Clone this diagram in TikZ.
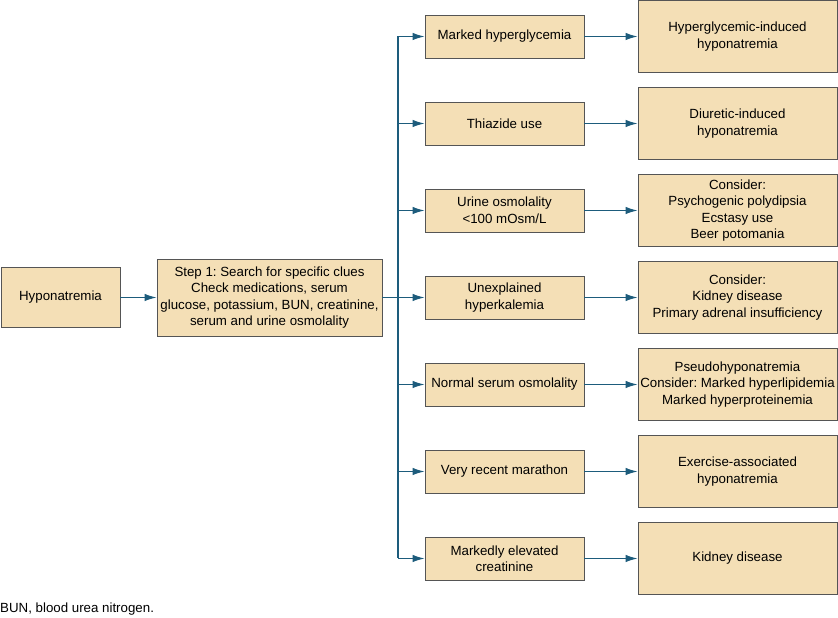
\documentclass[tikz,border=0pt]{standalone}
\usepackage{fontspec}
\setmainfont{Liberation Sans}
\usetikzlibrary{positioning, arrows.meta}
\definecolor{boxfill}{HTML}{F4DFB6}
\definecolor{boxline}{HTML}{555555}
\definecolor{flowblue}{HTML}{1D5C7C}
\frenchspacing

\begin{document}
\begin{tikzpicture}[x=1pt, y=1pt, node distance=87pt, on grid,
   box/.style={draw=boxline, fill=boxfill, line width=0.9pt, align=center,
     inner sep=2pt, font=\fontsize{13.3}{16.5}\selectfont},
   startbox/.style={box, minimum width=119pt, minimum height=60pt},
   stepbox/.style={box, minimum width=225pt, minimum height=77pt},
   cluebox/.style={box, minimum width=159pt, minimum height=43pt},
   causebox/.style={box, minimum width=199pt, minimum height=72pt},
   flow/.style={draw=flowblue, line width=1.1pt},
   flowarrow/.style={flow, -{Latex[length=12pt, width=7.5pt]}}]
   \useasboundingbox (0,0) rectangle (838,618);

   \node[startbox] (hypo) at (60.5,320.5) {Hyponatremia};
   \node[stepbox] (step) [right=209pt of hypo] {Step 1: Search for specific clues\\
     Check medications, serum\\
     glucose, potassium, BUN, creatinine,\\
     serum and urine osmolality};

   % clues
   \node[cluebox] (c1) at (504.5,581.5) {Marked hyperglycemia};
   \node[cluebox] (c2) [below=of c1] {Thiazide use};
   \node[cluebox] (c3) [below=of c2] {Urine osmolality\\<100 mOsm/L};
   \node[cluebox] (c4) [below=of c3] {Unexplained\\hyperkalemia};
   \node[cluebox] (c5) [below=of c4] {Normal serum osmolality};
   \node[cluebox] (c6) [below=of c5] {Very recent marathon};
   \node[cluebox] (c7) [below=of c6] {Markedly elevated\\creatinine};

   % causes
   \node[causebox] (d1) [right=233pt of c1] {Hyperglycemic-induced\\hyponatremia};
   \node[causebox] (d2) [right=233pt of c2] {Diuretic-induced\\hyponatremia};
   \node[causebox] (d3) [right=233pt of c3] {Consider:\\Psychogenic polydipsia\\Ecstasy use\\Beer potomania};
   \node[causebox] (d4) [right=233pt of c4] {Consider:\\Kidney disease\\Primary adrenal insufficiency};
   \node[causebox] (d5) [right=233pt of c5] {Pseudohyponatremia\\Consider: Marked hyperlipidemia\\Marked hyperproteinemia};
   \node[causebox] (d6) [right=233pt of c6] {Exercise-associated\\hyponatremia};
   \node[causebox] (d7) [right=233pt of c7] {Kidney disease};

   \node[anchor=base west, inner sep=0pt, font=\fontsize{13.3}{16.5}\selectfont]
     (note) at (0,5) {BUN, blood urea nitrogen.};

   \coordinate (trunk) at (398,320.5);
   \draw[flowarrow] (hypo) -- (step);
   \draw[flow] (step.east) -- (trunk);
   \draw[flow] (trunk |- c1) -- (trunk |- c7);
   \foreach \i in {1,...,7}{
     \draw[flowarrow] (trunk |- c\i) -- (c\i);
     \draw[flowarrow] (c\i) -- (d\i);
   }
\end{tikzpicture}
\end{document}
